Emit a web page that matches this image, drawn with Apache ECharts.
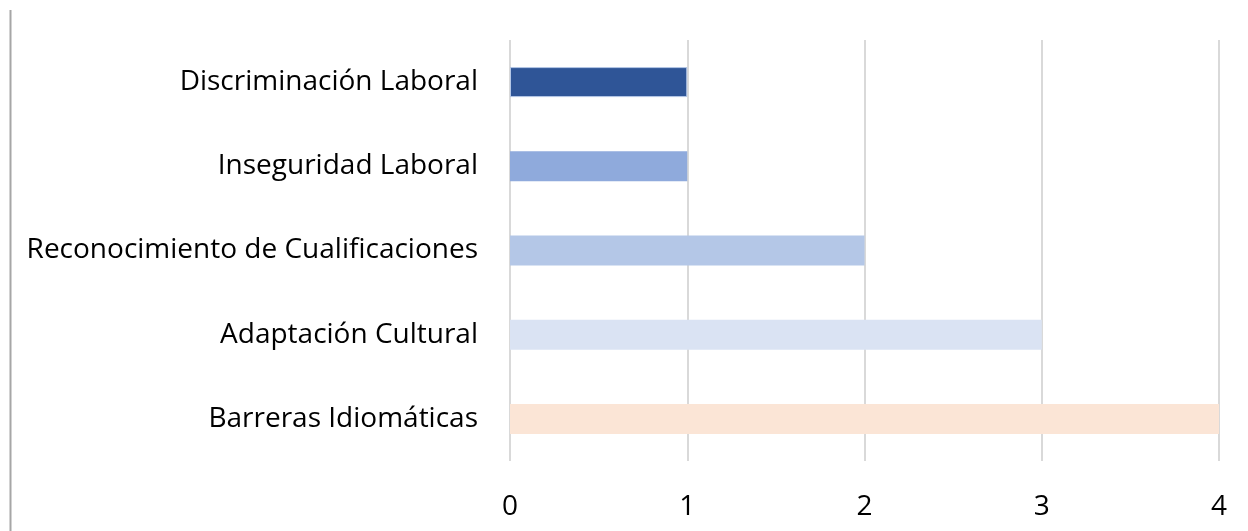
<!DOCTYPE html>
<html>
<head>
<meta charset="utf-8">
<script src="https://cdn.jsdelivr.net/npm/echarts@6/dist/echarts.min.js"></script>
<style>
  html, body { margin: 0; padding: 0; background: #fff; }
  #chart { width: 1248px; height: 531px; }
</style>
</head>
<body>
<div id="chart"></div>
<script>
// categories from bottom to top
var categories = ['Barreras Idiomáticas', 'Adaptación Cultural', 'Reconocimiento de Cualificaciones', 'Inseguridad Laboral', 'Discriminación Laboral'];
var values = [4, 3, 2, 1, 1];
var barColors = ['#FBE5D6', '#DAE3F3', '#B4C7E7', '#8FAADC', '#2F5597'];
var xTicks = [0, 1, 2, 3, 4];

var chart = echarts.init(document.getElementById('chart'));
var font = 'Open Sans, Liberation Sans, sans-serif';

var option = {
  animation: false,
  grid: { left: 510, right: 29, top: 40, bottom: 70 },
  xAxis: {
    type: 'value',
    min: xTicks[0],
    max: xTicks[xTicks.length - 1],
    interval: 1,
    axisLine: { show: false },
    axisTick: { show: false },
    splitLine: { lineStyle: { color: '#d9d9d9', width: 2 } },
    axisLabel: { color: '#000', fontSize: 28, fontFamily: font, margin: 32 }
  },
  yAxis: {
    type: 'category',
    data: categories,
    axisLine: { show: false },
    axisTick: { show: false },
    axisLabel: { color: '#000', fontSize: 28, fontFamily: font, margin: 32 }
  },
  series: [{
    type: 'bar',
    barWidth: 30,
    data: values.map(function (v, i) {
      return {
        value: v,
        itemStyle: {
          color: barColors[i],
          borderColor: i === 4 ? '#B4C7E7' : barColors[i],
          borderWidth: i === 4 ? 1 : 0
        }
      };
    })
  }],
  graphic: [{
    type: 'line',
    shape: { x1: 10.5, y1: 10, x2: 10.5, y2: 531 },
    style: { stroke: '#a6a6a6', lineWidth: 2 }
  }]
};
chart.setOption(option);
</script>
</body>
</html>
